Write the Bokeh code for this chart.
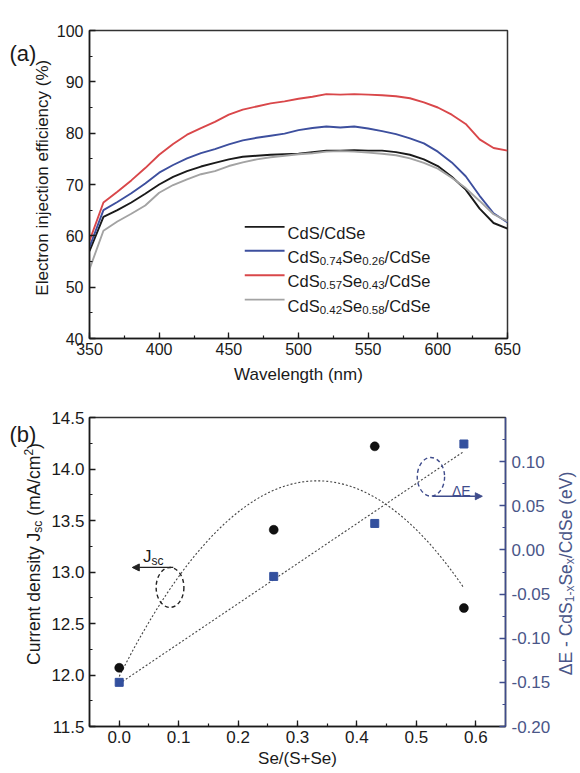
import numpy as np
from bokeh.plotting import figure
from bokeh.models import (Range1d, LinearAxis, Label, Arrow, NormalHead,
                          SingleIntervalTicker, PrintfTickFormatter)
from bokeh.layouts import column, row
from bokeh.embed import file_html
from bokeh.resources import INLINE

FONT = "Liberation Sans"

# ---------------- data: panel (a) ----------------
wavelength = [350, 360, 370, 380, 390, 400, 410, 420, 430, 440, 450, 460, 470, 480, 490,
              500, 510, 520, 530, 540, 550, 560, 570, 580, 590, 600, 610, 620, 630, 640, 650]
eff_cds = [57.0, 63.7, 65.0, 66.5, 68.2, 70.0, 71.5, 72.6, 73.5, 74.2, 74.9, 75.4, 75.6, 75.8, 75.9,
           76.0, 76.3, 76.6, 76.6, 76.7, 76.6, 76.6, 76.3, 75.8, 74.9, 73.6, 71.5, 69.0, 65.3, 62.5, 61.4]
eff_074 = [57.8, 65.0, 66.6, 68.3, 70.2, 72.3, 73.8, 75.1, 76.1, 76.9, 77.8, 78.6, 79.1, 79.5, 79.9,
           80.6, 81.0, 81.3, 81.1, 81.3, 80.9, 80.4, 79.8, 79.0, 78.0, 76.4, 74.3, 71.6, 67.8, 64.4, 62.6]
eff_057 = [59.0, 66.5, 68.6, 70.8, 73.2, 75.8, 77.9, 79.7, 81.0, 82.2, 83.6, 84.6, 85.2, 85.8, 86.2,
           86.7, 87.1, 87.6, 87.5, 87.6, 87.5, 87.4, 87.2, 86.8, 86.0, 85.0, 83.6, 81.8, 78.8, 77.1, 76.6]
eff_042 = [53.5, 61.0, 62.8, 64.3, 65.9, 68.4, 69.9, 71.0, 72.0, 72.6, 73.6, 74.3, 74.9, 75.3, 75.6,
           75.9, 76.1, 76.4, 76.5, 76.4, 76.2, 76.0, 75.7, 75.1, 74.2, 73.1, 71.3, 69.3, 66.8, 64.2, 62.8]

series_colors = ["#1a1a1a", "#3d4f9e", "#d9474a", "#a3a3a3"]
legend_pieces = [
    [("CdS/CdSe", 0)],
    [("CdS", 0), ("0.74", 1), ("Se", 0), ("0.26", 1), ("/CdSe", 0)],
    [("CdS", 0), ("0.57", 1), ("Se", 0), ("0.43", 1), ("/CdSe", 0)],
    [("CdS", 0), ("0.42", 1), ("Se", 0), ("0.58", 1), ("/CdSe", 0)],
]

# ---------------- data: panel (b) ----------------
se_ratio = [0.0, 0.26, 0.43, 0.58]
jsc = [12.07, 13.41, 14.22, 12.65]
delta_e = [-0.150, -0.030, 0.030, 0.120]

# Liberation Sans advance widths (per 1000 em)
ADV = {'C': 722, 'd': 556, 'S': 667, 'e': 556, '/': 278, '.': 278, ' ': 278, '\u00a0': 278,
       '(': 333, ')': 333, '-': 333, 'x': 500, 's': 500, 'c': 500, 'J': 500, 'E': 667, 'V': 667,
       '\u0394': 668, 'm': 833, 'A': 667, 'u': 556, 'r': 333, 'n': 556, 't': 278, 'i': 222,
       'y': 500, '+': 584}


def tw(s, size):
    return sum(ADV.get(ch, 556) for ch in s) / 1000.0 * size


def style_axis(ax, color="#1a1a1a", label_color="#1a1a1a", size="16px"):
    ax.major_tick_in = 6
    ax.major_tick_out = 0
    ax.minor_tick_in = 3
    ax.minor_tick_out = 0
    ax.axis_line_width = 1.5
    ax.axis_line_color = color
    ax.major_tick_line_color = color
    ax.minor_tick_line_color = color
    ax.major_tick_line_width = 1.3
    ax.minor_tick_line_width = 1.2
    ax.major_label_text_font = FONT
    ax.major_label_text_font_size = size
    ax.major_label_text_color = label_color
    ax.axis_label_text_font = FONT
    ax.axis_label_text_font_style = "normal"
    ax.axis_label_text_color = label_color


def helper(w, h):
    f = figure(width=w, height=h, x_range=Range1d(0, w), y_range=Range1d(h, 0),
               x_axis_location=None, y_axis_location=None, title_location=None,
               output_backend="svg", toolbar_location=None, min_border=0)
    f.grid.visible = False
    f.outline_line_color = None
    return f


def pieces_rot(f, cx, cy, pieces, main, small, color):
    total = sum(tw(t, small if k else main) for t, k in pieces)
    off = 0.0
    for txt, kind in pieces:
        size = small if kind else main
        dx = 4 if kind == 1 else (-5 if kind == 2 else 0)
        f.add_layout(Label(x=cx, y=cy + total / 2, x_offset=dx, y_offset=off, text=txt,
                           angle=np.pi / 2, text_font=FONT, text_font_size=f"{size}px",
                           text_color=color, text_baseline="middle", text_align="left"))
        off += tw(txt, size)


# ================= panel (a) =================
ROW1_H = 386
a_left = helper(53, ROW1_H)
p1 = figure(width=527, height=ROW1_H, x_range=Range1d(350, 650), y_range=Range1d(40, 100),
            output_backend="svg", toolbar_location=None,
            min_border_left=34, min_border_right=73, min_border_top=30, min_border_bottom=47)
p1.grid.visible = False
p1.outline_line_color = "#333333"
p1.outline_line_width = 1.5

for ys, col in zip([eff_cds, eff_074, eff_057, eff_042], series_colors):
    p1.line(wavelength, ys, line_color=col, line_width=1.9)

p1.xaxis.ticker = SingleIntervalTicker(interval=50, num_minor_ticks=2)
p1.yaxis.ticker = SingleIntervalTicker(interval=10, num_minor_ticks=2)
p1.xaxis.formatter = PrintfTickFormatter(format="%d")
p1.yaxis.formatter = PrintfTickFormatter(format="%d")
style_axis(p1.xaxis[0])
style_axis(p1.yaxis[0])
p1.xaxis.major_label_standoff = 4
p1.yaxis.major_label_standoff = 6
p1.xaxis.axis_label = "Wavelength (nm)"
p1.xaxis.axis_label_text_font_size = "17px"
p1.xaxis.axis_label_standoff = 7


def tx(px):  # page px -> data x (panel a)
    return 350 + (px - 87) * 300.0 / 420


def ty(py):
    return 100 - (py - 30) * 60.0 / 309


row_py = [227, 251, 275.5, 300]
for pieces, col, rp in zip(legend_pieces, series_colors, row_py):
    yy = ty(rp)
    p1.segment(x0=[tx(243)], y0=[yy], x1=[tx(283)], y1=[yy], line_color=col, line_width=1.9)
    off = 0.0
    for txt, sub in pieces:
        size = 11.5 if sub else 16.5
        p1.add_layout(Label(x=tx(286), y=yy, x_offset=off, y_offset=-10 if sub else -6,
                            text=txt, text_font=FONT, text_font_size=f"{size}px",
                            text_color="#1a1a1a", text_baseline="alphabetic", text_align="left"))
        off += tw(txt, size)

a_left.add_layout(Label(x=9, y=28.4, text="(a)", text_font=FONT, text_font_size="22px",
                        text_color="#1a1a1a", text_baseline="alphabetic", text_align="left"))
a_left.add_layout(Label(x=42, y=184.5, text="Electron injection efficiency (%)", angle=np.pi / 2,
                        text_font=FONT, text_font_size="17px", text_color="#1a1a1a",
                        text_baseline="middle", text_align="center"))

# ================= panel (b) =================
ROW2_H = 387
ROW2_TOP = ROW1_H
b_left = helper(48, ROW2_H)
b_right = helper(27, ROW2_H)
p2 = figure(width=505, height=ROW2_H, x_range=Range1d(-0.05, 0.65), y_range=Range1d(11.5, 14.5),
            output_backend="svg", toolbar_location=None,
            min_border_left=39, min_border_right=46, min_border_top=31, min_border_bottom=47)
p2.grid.visible = False
p2.outline_line_color = "#333333"
p2.outline_line_width = 1.5
p2.extra_y_ranges = {"de": Range1d(-0.20, 0.15)}

BLUE = "#33509e"
AXBLUE = "#3f4c8c"

right = LinearAxis(y_range_name="de")
p2.add_layout(right, "right")

p2.xaxis.ticker = SingleIntervalTicker(interval=0.1, num_minor_ticks=2)
p2.yaxis[0].ticker = SingleIntervalTicker(interval=0.5, num_minor_ticks=2)
right.ticker = SingleIntervalTicker(interval=0.05, num_minor_ticks=2)
p2.xaxis.formatter = PrintfTickFormatter(format="%.1f")
p2.yaxis[0].formatter = PrintfTickFormatter(format="%.1f")
right.formatter = PrintfTickFormatter(format="%.2f")
style_axis(p2.xaxis[0], size="17px")
style_axis(p2.yaxis[0], size="17px")
style_axis(right, color=AXBLUE, label_color="#4a5688", size="17px")
p2.xaxis.major_label_standoff = 4
p2.yaxis[0].major_label_standoff = 5
right.major_label_standoff = 6
p2.xaxis.axis_label = "Se/(S+Se)"
p2.xaxis.axis_label_text_font_size = "17px"
p2.xaxis.axis_label_standoff = 3

# fits computed from the data
xf = np.linspace(0, 0.58, 80)
cq = np.polyfit(se_ratio, jsc, 2)
cl = np.polyfit(se_ratio, delta_e, 1)
p2.line(xf, np.polyval(cq, xf), line_color="#444444", line_width=1.1, line_dash="2 2")
p2.line(xf, np.polyval(cl, xf), line_color="#444444", line_width=1.1, line_dash="2 2",
        y_range_name="de")

p2.scatter(se_ratio, jsc, marker="circle", size=9, fill_color="#111111", line_color="#000000",
           line_width=0.5)
p2.scatter(se_ratio, delta_e, marker="square", size=8, fill_color=BLUE, line_color=BLUE,
           y_range_name="de")

# annotation ellipses and arrows
p2.ellipse(x=[0.0855], y=[12.85], width=0.0467, height=0.388, fill_color=None,
           line_color="#222222", line_width=1.4, line_dash="4 3")
p2.ellipse(x=[0.5245], y=[0.0828], width=0.046, height=0.0438, fill_color=None,
           line_color=AXBLUE, line_width=1.4, line_dash="4 3", y_range_name="de")
p2.add_layout(Arrow(end=NormalHead(size=7, fill_color="#222222", line_color="#222222"),
                    x_start=0.091, y_start=13.044, x_end=0.022, y_end=13.044,
                    line_color="#222222", line_width=1.3))
p2.add_layout(Arrow(end=NormalHead(size=7, fill_color=AXBLUE, line_color=AXBLUE),
                    x_start=0.527, y_start=0.0608, x_end=0.611, y_end=0.0608,
                    line_color=AXBLUE, line_width=1.3, y_range_name="de"))

p2.add_layout(Label(x=0.040, y=13.15, text="J", text_font=FONT, text_font_size="17px",
                    text_color="#1a1a1a", text_baseline="alphabetic"))
p2.add_layout(Label(x=0.040, y=13.15, x_offset=tw("J", 17), y_offset=-4, text="sc",
                    text_font=FONT, text_font_size="12px", text_color="#1a1a1a",
                    text_baseline="alphabetic"))
p2.add_layout(Label(x=0.56, y=0.0673, text="\u0394E", text_font=FONT, text_font_size="14px",
                    text_color=AXBLUE, text_baseline="alphabetic", y_range_name="de"))

b_left.add_layout(Label(x=9, y=407 - ROW2_TOP, text="(b)", text_font=FONT,
                        text_font_size="22px", text_color="#1a1a1a",
                        text_baseline="alphabetic", text_align="left"))
pieces_rot(b_left, 33, 585 - ROW2_TOP,
           [("Current density J", 0), ("sc", 1), ("\u00a0(mA/cm", 0), ("2", 2), (")", 0)],
           17.5, 12.0, "#1a1a1a")
pieces_rot(b_right, 12, 607 - ROW2_TOP,
           [("\u0394E - CdS", 0), ("1-x", 1), ("Se", 0), ("x", 1), ("/CdSe (eV)", 0)],
           17.5, 12.0, "#4a5688")

layout = column(row(a_left, p1), row(b_left, p2, b_right))
open("out.html", "w").write(file_html(layout, INLINE))
